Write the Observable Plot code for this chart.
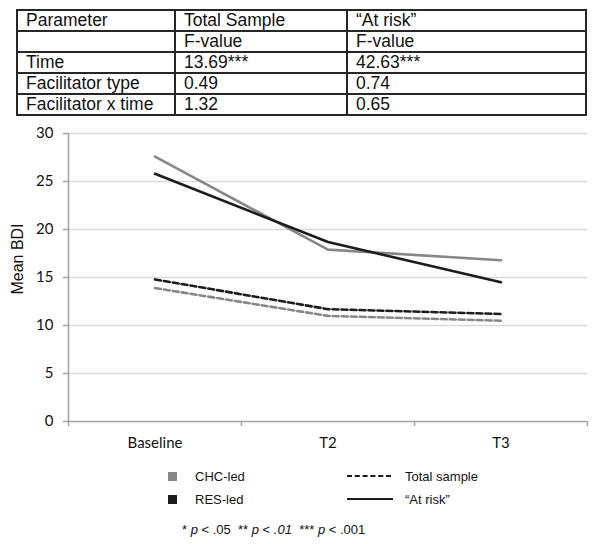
<!DOCTYPE html>
<html>
<head>
<meta charset="utf-8">
<script src="https://cdn.jsdelivr.net/npm/d3@7"></script>
<script src="https://cdn.jsdelivr.net/npm/@observablehq/plot@0.6"></script>
<style>
  html, body { margin: 0; padding: 0; background: #fff; }
  body { width: 601px; height: 544px; position: relative; overflow: hidden; font-family: "Liberation Sans", Arial, sans-serif; color: #111; }
  #tbl { position: absolute; left: 16px; top: 9px; border-collapse: collapse; table-layout: fixed; font-size: 17.5px; }
  #tbl td { border: 2px solid #262626; padding: 0 0 0 8px; height: 17.5px; line-height: 19px; white-space: nowrap; }
  #chart { position: absolute; left: 0; top: 120px; }
  #ylabel { position: absolute; left: 18px; top: 259px; transform: translate(-50%, -50%) rotate(-90deg); font-size: 16px; white-space: nowrap; line-height: 16px; }
  .lg { position: absolute; font-size: 13px; line-height: 13px; white-space: nowrap; }
  .sw { position: absolute; width: 9px; height: 9px; }
  #legendLines { position: absolute; left: 0; top: 0; }
</style>
</head>
<body>
<script>
// ---- data ----
const tableHeader = ["Parameter", "Total Sample", "\u201CAt risk\u201D"];
const tableSubHeader = ["", "F-value", "F-value"];
const parameters = ["Time", "Facilitator type", "Facilitator x time"];
const fTotal = ["13.69***", "0.49", "1.32"];
const fAtRisk = ["42.63***", "0.74", "0.65"];

const categories = ["Baseline", "T2", "T3"];
const chcTotal = [13.9, 11.0, 10.5];
const resTotal = [14.8, 11.7, 11.2];
const chcRisk = [27.6, 17.9, 16.8];
const resRisk = [25.8, 18.7, 14.5];
const yTicks = [0, 5, 10, 15, 20, 25, 30];

const facilitators = ["CHC-led", "RES-led"];
const samples = ["Total sample", "\u201CAt risk\u201D"];
const footnote = [["* ", "p", " < .05"], ["** ", "p", " < ", ".01"], ["*** ", "p", " < .001"]];

// ---- table ----
const tbl = document.createElement("table");
tbl.id = "tbl";
const colWidths = [158, 172, 239];
const cg = document.createElement("colgroup");
colWidths.forEach(w => { const c = document.createElement("col"); c.style.width = w + "px"; cg.appendChild(c); });
tbl.appendChild(cg);
const allRows = [tableHeader, tableSubHeader, ...parameters.map((p, i) => [p, fTotal[i], fAtRisk[i]])];
allRows.forEach(r => {
  const tr = document.createElement("tr");
  r.forEach(v => { const td = document.createElement("td"); td.textContent = v; tr.appendChild(td); });
  tbl.appendChild(tr);
});
document.body.appendChild(tbl);

// ---- chart ----
const colors = {"CHC-led": "#878787", "RES-led": "#1c1c1c"};
const dashes = {"Total sample": "6,3", "\u201CAt risk\u201D": null};
const seriesList = [
  {fac: "CHC-led", sample: "Total sample", values: chcTotal},
  {fac: "RES-led", sample: "Total sample", values: resTotal},
  {fac: "CHC-led", sample: "\u201CAt risk\u201D", values: chcRisk},
  {fac: "RES-led", sample: "\u201CAt risk\u201D", values: resRisk}
];

const lineMarks = seriesList.map(s => Plot.line(
  s.values.map((v, i) => ({time: categories[i], i, value: v})),
  {
    x: d => d.i + 0.5, y: "value",
    stroke: colors[s.fac], strokeWidth: 2.6,
    strokeDasharray: dashes[s.sample] || undefined,
    strokeLinejoin: "round",
    curve: "linear"
  }
));

const chart = Plot.plot({
  width: 601, height: 340,
  marginLeft: 68, marginRight: 14, marginTop: 13, marginBottom: 39,
  x: {domain: [0, categories.length]},
  y: {domain: [0, 30]},
  style: {fontFamily: "Lato, 'Open Sans', sans-serif", fontSize: "15px", color: "#111", background: "white", overflow: "visible"},
  marks: [
    Plot.gridY(yTicks.filter(t => t > 0), {stroke: "#d9d9d9", strokeOpacity: 1, strokeWidth: 1.5}),
    Plot.ruleX([0], {stroke: "#a3a3a3", strokeWidth: 1.5}),
    Plot.ruleY([0], {stroke: "#a3a3a3", strokeWidth: 1.5}),
    Plot.axisY({ticks: yTicks, tickSize: 5, tickPadding: 10, stroke: "#a3a3a3", strokeWidth: 1.5, label: null}),
    Plot.axisX({ticks: d3.range(categories.length + 1), tickFormat: () => "", tickSize: 5, stroke: "#a3a3a3", strokeWidth: 1.5, label: null}),
    Plot.axisX({ticks: categories.map((_, i) => i + 0.5), tickFormat: d => categories[Math.round(d - 0.5)], tickSize: 0, tickPadding: 16, label: null}),
    ...lineMarks
  ]
});
chart.id = "chart";
document.body.appendChild(chart);

const yl = document.createElement("div");
yl.id = "ylabel";
yl.textContent = "Mean BDI";
document.body.appendChild(yl);

// ---- legend ----
function addText(txt, left, top) {
  const d = document.createElement("div");
  d.className = "lg";
  d.style.left = left + "px"; d.style.top = top + "px";
  d.textContent = txt;
  document.body.appendChild(d);
  return d;
}
facilitators.forEach((f, k) => {
  const sw = document.createElement("div");
  sw.className = "sw";
  sw.style.left = "168px"; sw.style.top = (472 + k * 23) + "px";
  sw.style.background = colors[f];
  document.body.appendChild(sw);
  addText(f, 195, 470 + k * 23);
});
const ns = "http://www.w3.org/2000/svg";
const lsvg = document.createElementNS(ns, "svg");
lsvg.setAttribute("id", "legendLines");
lsvg.setAttribute("width", 601); lsvg.setAttribute("height", 544);
samples.forEach((s, k) => {
  const ln = document.createElementNS(ns, "line");
  ln.setAttribute("x1", 347); ln.setAttribute("x2", 393);
  ln.setAttribute("y1", 476 + k * 23); ln.setAttribute("y2", 476 + k * 23);
  ln.setAttribute("stroke", "#1c1c1c"); ln.setAttribute("stroke-width", 2.2);
  if (dashes[s]) ln.setAttribute("stroke-dasharray", "5,2.8");
  lsvg.appendChild(ln);
  addText(s, 405, 470 + k * 23);
});
document.body.appendChild(lsvg);

const fn = document.createElement("div");
fn.className = "lg";
fn.style.left = "182px"; fn.style.top = "523px";
footnote.forEach((parts, gi) => {
  parts.forEach((p, pi) => {
    const sp = document.createElement("span");
    sp.textContent = p;
    if (p === "p" || p === ".01") sp.style.fontStyle = "italic";
    fn.appendChild(sp);
  });
  if (gi < footnote.length - 1) fn.appendChild(document.createTextNode("\u00A0\u00A0"));
});
document.body.appendChild(fn);
</script>
</body>
</html>
